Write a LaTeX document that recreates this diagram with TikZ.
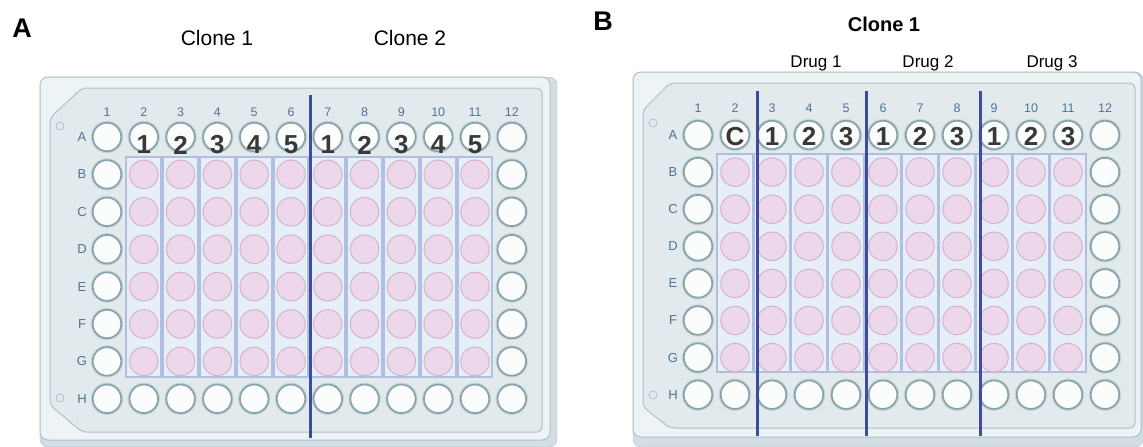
\documentclass[tikz,border=0pt]{standalone}
\usepackage{fontspec}
\setmainfont{Liberation Sans}
\definecolor{sidefill}{HTML}{D2DEE3}
\definecolor{plateedge}{HTML}{ADC0C8}
\definecolor{platefill}{HTML}{EEF3F5}
\definecolor{panelfill}{HTML}{E3EAEE}
\definecolor{wellring}{HTML}{87A4A8}
\definecolor{wellhalo}{HTML}{C6D5D8}
\definecolor{wellfill}{HTML}{FBFCFC}
\definecolor{pinkfill}{HTML}{ECD8EA}
\definecolor{pinkedge}{HTML}{D3B2CD}
\definecolor{lanefill}{HTML}{E6EEF8}
\definecolor{laneedge}{HTML}{B0BFE0}
\definecolor{divider}{HTML}{3F4C9B}
\definecolor{labblue}{HTML}{4D7496}
\definecolor{numgray}{HTML}{383838}
\begin{document}
\begin{tikzpicture}[x=1pt,y=-1pt,
    plateside/.style={fill=sidefill,draw=plateedge,rounded corners=8pt},
    plateface/.style={fill=platefill,draw=plateedge,line width=1pt,rounded corners=8pt},
    platepanel/.style={fill=panelfill,draw=plateedge,line width=1pt,rounded corners=5pt},
    markhole/.style={draw=plateedge,line width=0.8pt},
    lane/.style={fill=lanefill,draw=laneedge,line width=2pt},
    well/.style={circle,minimum size=28.5pt,inner sep=0pt,fill=wellfill,draw=wellring,line width=1.7pt,
        preaction={draw=wellhalo,line width=3.8pt}},
    pinkwell/.style={circle,minimum size=28.5pt,inner sep=0pt,fill=pinkfill,draw=pinkedge,line width=1pt},
    divline/.style={draw=divider,line width=2.4pt},
    collab/.style={text=labblue,font=\fontsize{12.5}{14}\selectfont,inner sep=0pt},
    rowlab/.style={text=labblue,font=\fontsize{13}{15}\selectfont,inner sep=0pt},
    wellnum/.style={text=numgray,font=\fontsize{26}{28}\selectfont\bfseries,inner sep=0pt},
    panellab/.style={font=\fontsize{27}{30}\selectfont\bfseries,inner sep=0pt},
    clonelab/.style={font=\fontsize{21}{24}\selectfont,inner sep=0pt},
    druglab/.style={font=\fontsize{17}{20}\selectfont,inner sep=0pt}]
\useasboundingbox (0,0) rectangle (1143,447);

% ---------- plate A ----------
\draw[plateside] (40,77) rectangle (557,447);
\draw[plateface] (40,77) rectangle (550,440);
\draw[platepanel] (50,118) -- (82,88) -- (542,88) -- (542,432) -- (82,432) -- (50,405) -- cycle;
\draw[markhole] (60,126) circle[radius=4];
\draw[markhole] (60,398) circle[radius=4];
\foreach \c [evaluate=\c as \xx using 107+(\c-1)*36.8] in {2,...,11}
    \draw[lane] (\xx-17.4,157) rectangle (\xx+17.4,377);
\foreach \c [evaluate=\c as \xx using 107+(\c-1)*36.8] in {1,...,12}
{
    \node[collab] (acol\c) at (\xx,112) {\c};
    \node[well] (a-A\c) at (\xx,137) {};
    \node[well] (a-H\c) at (\xx,398.8) {};
}
\foreach \rl/\yy in {A/137,H/398.8}
    \node[rowlab] (arow\rl) at (82,\yy) {\rl};
\foreach \r/\rl [evaluate=\r as \yy using 137+(\r-1)*37.4] in {2/B,3/C,4/D,5/E,6/F,7/G}
{
    \node[rowlab] (arow\rl) at (82,\yy) {\rl};
    \node[well] (a-\rl1) at (107,\yy) {};
    \node[well] (a-\rl12) at (511.8,\yy) {};
    \foreach \c [evaluate=\c as \xx using 107+(\c-1)*36.8] in {2,...,11}
        \node[pinkwell] (a-\rl\c) at (\xx,\yy) {};
}
\foreach \c/\n [evaluate=\c as \xx using 107+(\c-1)*36.8] in {2/1,3/2,4/3,5/4,6/5,7/1,8/2,9/3,10/4,11/5}
    \node[wellnum] (anum\c) at (\xx,145) {\n};
\draw[divline] (310.5,95) -- (310.5,438);
\node[panellab] (panelA) at (22,28) {A};
\node[clonelab] (aclone1) at (217,38) {Clone 1};
\node[clonelab] (aclone2) at (410,38) {Clone 2};

% ---------- plate B ----------
\draw[plateside] (633,72) rectangle (1143,447);
\draw[plateface] (633,72) rectangle (1141,437);
\draw[platepanel] (643,110) -- (670,83) -- (1135,83) -- (1135,428) -- (670,428) -- (643,407) -- cycle;
\draw[markhole] (653,123) circle[radius=4];
\draw[markhole] (653,395) circle[radius=4];
\foreach \c [evaluate=\c as \xx using 698+(\c-1)*37] in {2,...,11}
    \draw[lane] (\xx-17.6,154) rectangle (\xx+17.6,372);
\foreach \c [evaluate=\c as \xx using 698+(\c-1)*37] in {1,...,12}
{
    \node[collab] (bcol\c) at (\xx,108) {\c};
    \node[well] (b-A\c) at (\xx,135) {};
    \node[well] (b-H\c) at (\xx,394.7) {};
}
\foreach \rl/\yy in {A/135,H/394.7}
    \node[rowlab] (brow\rl) at (673,\yy) {\rl};
\foreach \r/\rl [evaluate=\r as \yy using 135+(\r-1)*37.1] in {2/B,3/C,4/D,5/E,6/F,7/G}
{
    \node[rowlab] (brow\rl) at (673,\yy) {\rl};
    \node[well] (b-\rl1) at (698,\yy) {};
    \node[well] (b-\rl12) at (1105,\yy) {};
    \foreach \c [evaluate=\c as \xx using 698+(\c-1)*37] in {2,...,11}
        \node[pinkwell] (b-\rl\c) at (\xx,\yy) {};
}
\foreach \c/\n [evaluate=\c as \xx using 698+(\c-1)*37] in {2/C,3/1,4/2,5/3,6/1,7/2,8/3,9/1,10/2,11/3}
    \node[wellnum] (bnum\c) at (\xx,136.5) {\n};
\foreach \xx in {757.5,866.5,980.5}
    \draw[divline] (\xx,91) -- (\xx,436);
\node[panellab] (panelB) at (603,21) {B};
\node[clonelab,font=\fontsize{20}{24}\selectfont\bfseries] (bclone1) at (884,24) {Clone 1};
\node[druglab] (drug1) at (816,63) {Drug 1};
\node[druglab] (drug2) at (928,63) {Drug 2};
\node[druglab] (drug3) at (1052,63) {Drug 3};
\end{tikzpicture}
\end{document}
